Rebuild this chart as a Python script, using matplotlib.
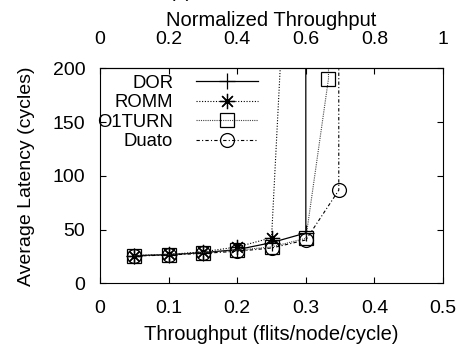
import numpy as np
import matplotlib
matplotlib.use('Agg')
import matplotlib.pyplot as plt

plt.rcParams['font.family'] = ['Liberation Sans', 'DejaVu Sans']

# data
dor_x = [0.05, 0.10, 0.15, 0.20, 0.25, 0.30, 0.297]
dor_y = [25.9, 26.8, 28.7, 31.5, 38.0, 47.0, 10000]

romm_x = [0.05, 0.10, 0.15, 0.20, 0.25, 0.265]
romm_y = [26.0, 27.0, 29.5, 34.0, 42.5, 230]

o1turn_x = [0.05, 0.10, 0.15, 0.20, 0.25, 0.30, 0.333, 0.336]
o1turn_y = [25.9, 26.8, 28.7, 31.0, 34.0, 42.0, 190.5, 5000]

duato_x = [0.05, 0.10, 0.15, 0.20, 0.25, 0.30, 0.348, 0.348]
duato_y = [25.5, 26.5, 28.0, 30.0, 33.0, 40.5, 86.8, 5000]

fig = plt.figure(figsize=(4.62, 3.47), dpi=100)
ax = fig.add_axes([0.2165, 0.183, 0.7425, 0.6196])

ax.plot(dor_x, dor_y, color='black', lw=0.9, ls='-', marker='+', ms=11,
        mew=0.9, label='DOR')
ax.plot(romm_x, romm_y, color='black', lw=0.8, ls=(0, (1, 1.5)),
        marker=(8, 2, 0), ms=11, mew=0.9, label='ROMM')
ax.plot(o1turn_x, o1turn_y, color='#444444', lw=0.8, ls=(0, (1, 1)),
        marker='s', ms=10, mfc='none', mec='black', mew=0.9, label='O1TURN')
ax.plot(duato_x, duato_y, color='black', lw=0.8, ls=(0, (3, 2, 1, 2)),
        marker='o', ms=10, mfc='none', mec='black', mew=0.9, label='Duato')

ax.set_xlim(0, 0.5)
ax.set_ylim(0, 200)
ax.set_xticks([0, 0.1, 0.2, 0.3, 0.4, 0.5])
ax.set_xticklabels(['0', '0.1', '0.2', '0.3', '0.4', '0.5'])
ax.set_yticks([0, 50, 100, 150, 200])
ax.tick_params(direction='in', length=4, labelsize=14, right=True, top=False)
ax.tick_params(axis='x', pad=12)
ax.tick_params(axis='y', pad=10.5)
ax.set_xlabel('Throughput (flits/node/cycle)', fontsize=14.5, labelpad=6)
ax.set_ylabel('Average Latency (cycles)', fontsize=14, labelpad=13)

top = ax.secondary_xaxis('top', functions=(lambda x: x * 2, lambda x: x / 2))
top.set_xticks([0, 0.2, 0.4, 0.6, 0.8, 1.0])
top.set_xticklabels(['0', '0.2', '0.4', '0.6', '0.8', '1'])
top.tick_params(direction='in', length=4, labelsize=14, pad=14.5)
top.set_xlabel('Normalized Throughput', fontsize=14.5, labelpad=4)

leg = ax.legend(loc='upper left', bbox_to_anchor=(-0.008, 0.97),
                markerfirst=False, frameon=False,
                fontsize=13.3, handlelength=3.35, labelspacing=0.13,
                borderaxespad=0, borderpad=0, handletextpad=1.25)

fig.text(0.391, 0.998, '(a)', fontsize=14, ha='center', va='bottom')

fig.savefig('out.png', dpi=100)
